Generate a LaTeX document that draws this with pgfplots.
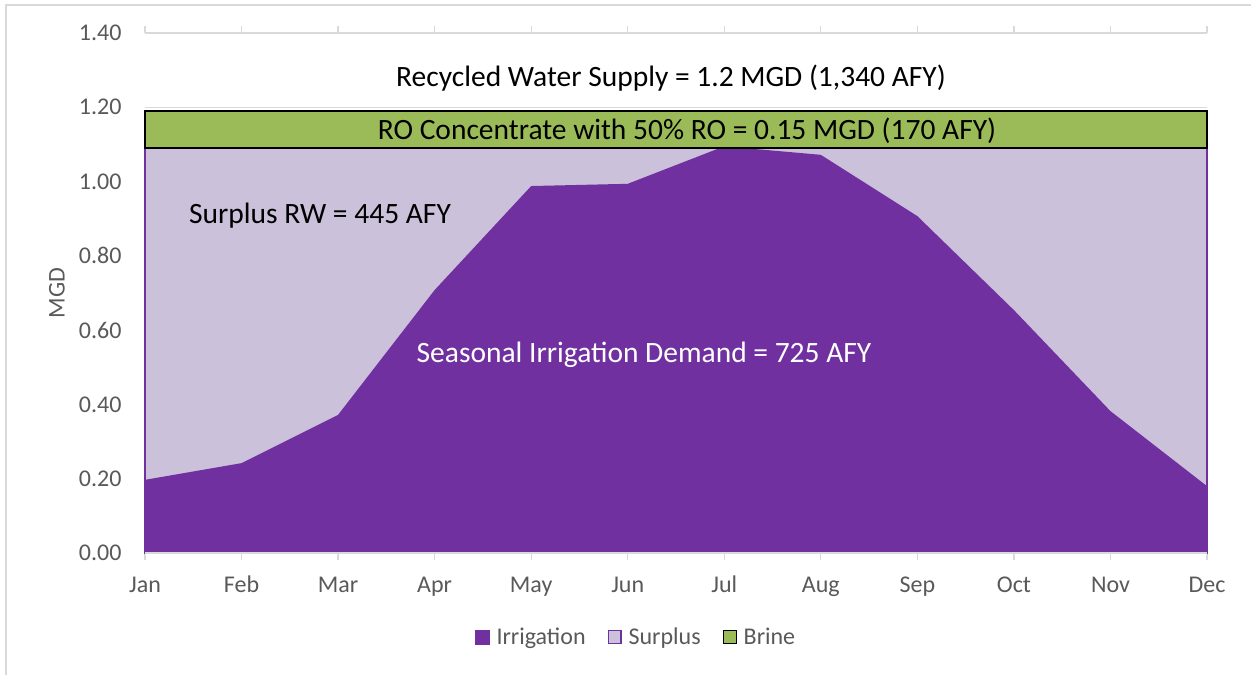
\documentclass[border=0pt]{standalone}
\usepackage{pgfplots}
\pgfplotsset{compat=1.18}
\usepackage{fontspec}
\setmainfont{Carlito}
\definecolor{irr}{HTML}{7030A0}
\definecolor{sur}{HTML}{CBC1DA}
\definecolor{bri}{HTML}{9BBB59}
\definecolor{txt}{HTML}{595959}
\definecolor{grd}{HTML}{D9D9D9}
\begin{document}
\begin{tikzpicture}
\useasboundingbox (0pt,0pt) rectangle (1251pt,-675pt);
\draw[grd, line width=1.5pt] (6pt,-700pt) -- (6pt,-5pt) -- (1300pt,-5pt);
\begin{axis}[
  at={(145pt,-553pt)}, anchor=south west,
  width=1062pt, height=520pt, scale only axis,
  xmin=0, xmax=11, ymin=0, ymax=1.4,
  clip=false,
  axis line style={draw=none},
  xtick={0,...,11},
  xticklabels={Jan,Feb,Mar,Apr,May,Jun,Jul,Aug,Sep,Oct,Nov,Dec},
  ytick={0,0.2,0.4,0.6,0.8,1.0,1.2,1.4},
  yticklabel style={/pgf/number format/fixed, /pgf/number format/fixed zerofill, /pgf/number format/precision=2, /pgf/number format/assume math mode=true, xshift=-13pt},
  ytick style={draw=none},
  xtick style={draw=grd, line width=1.2pt},
  tick align=outside,
  major tick length=7pt,
  ymajorgrids, grid style={grd, line width=1.5pt},
  tick label style={font=\fontsize{24}{28}\selectfont, text=txt},
  xticklabel style={yshift=-12pt, text height=17pt, text depth=5pt},
  ylabel={MGD},
  every axis y label/.style={at={(axis description cs:-0.083,0.5)}, rotate=90, anchor=center, font=\fontsize{24}{28}\selectfont, text=txt},
  legend style={at={(axis description cs:0.4625,-0.1615)}, anchor=center, draw=none, fill=none,
    font=\fontsize{24}{28}\selectfont, text=txt, legend columns=3,
    /tikz/every odd column/.append style={column sep=5pt},
    /tikz/every even column/.append style={column sep=20pt}},
  legend cell align=left,
]
\addlegendimage{legend image code/.code={\fill[irr] (0pt,-7pt) rectangle (14pt,7pt);}}
\addlegendentry{Irrigation}
\addlegendimage{legend image code/.code={\draw[irr, fill=sur, line width=1.2pt] (0.6pt,-6.4pt) rectangle (13.4pt,6.4pt);}}
\addlegendentry{Surplus}
\addlegendimage{legend image code/.code={\draw[black, fill=bri, line width=1.2pt] (0.6pt,-6.4pt) rectangle (13.4pt,6.4pt);}}
\addlegendentry{Brine}
% surplus (supply level)
\addplot[fill=sur, draw=irr, line width=1.2pt, forget plot] coordinates {(0,0) (0,1.09) (11,1.09) (11,0)} -- cycle;
% irrigation demand
\addplot[fill=irr, draw=none, forget plot] coordinates {
(0,0.197) (1,0.242) (2,0.372) (3,0.708) (4,0.988) (5,0.994) (6,1.095) (7,1.072) (8,0.907) (9,0.654) (10,0.382) (11,0.180)
} \closedcycle;
% x axis line
\addplot[grd, line width=1.5pt, forget plot] coordinates {(0,0) (11,0)};
% brine
\addplot[fill=bri, draw=black, line width=2pt, forget plot] coordinates {(0,1.09) (11,1.09) (11,1.19) (0,1.19)} -- cycle;
\end{axis}
\node[font=\fontsize{29.5}{34}\selectfont, text=black] at (671pt,-78pt) {Recycled Water Supply = 1.2 MGD (1,340 AFY)};
\node[font=\fontsize{29.5}{34}\selectfont, text=black] at (687pt,-131pt) {RO Concentrate with 50\% RO = 0.15 MGD (170 AFY)};
\node[font=\fontsize{29.5}{34}\selectfont, text=black] at (320pt,-216pt) {Surplus RW = 445 AFY};
\node[font=\fontsize{29.5}{34}\selectfont, text=white] at (644pt,-355pt) {Seasonal Irrigation Demand = 725 AFY};
\end{tikzpicture}
\end{document}
